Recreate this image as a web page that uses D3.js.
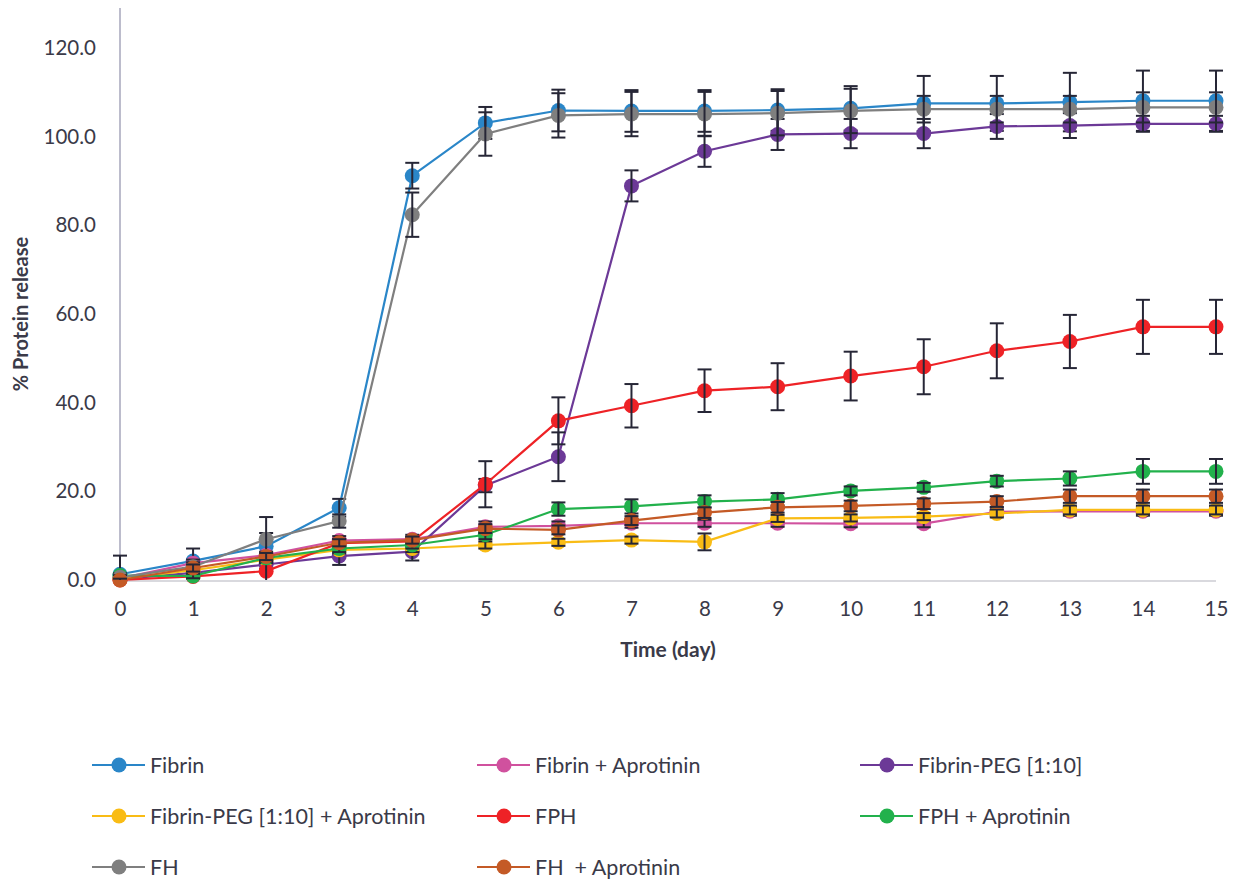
<!DOCTYPE html>
<html>
<head>
<meta charset="utf-8">
<script src="https://cdn.jsdelivr.net/npm/d3@7"></script>
<style>
  html, body { margin: 0; padding: 0; background: #ffffff; }
  svg { display: block; }
  text { font-family: Lato, "Open Sans", sans-serif; fill: #3a3a48; }
</style>
</head>
<body>
<svg id="chart" width="1238" height="881"></svg>
<script>
// Release time points (days)
const days = [0, 1, 2, 3, 4, 5, 6, 7, 8, 9, 10, 11, 12, 13, 14, 15];
const yTicks = [0, 20, 40, 60, 80, 100, 120];

// Series names
const seriesNames = [
  "Fibrin", "Fibrin + Aprotinin", "Fibrin-PEG [1:10]",
  "Fibrin-PEG [1:10] + Aprotinin", "FPH", "FPH + Aprotinin",
  "FH", "FH  + Aprotinin"
];
const seriesColors = ["#2a86c8", "#d0519e", "#6c3997", "#f9bc15", "#ee2226", "#22b14c", "#7f7f7f", "#c45a26"];

// Cumulative % protein release (mean)
const fibrin       = [1.3, 4.3, 7.6, 16.3, 91.2, 103.1, 105.9, 105.8, 105.8, 106.0, 106.4, 107.5, 107.5, 107.8, 108.1, 108.1];
const fibrinApro   = [0.4, 3.8, 5.6, 8.9, 9.2, 12.0, 12.2, 12.8, 12.8, 12.8, 12.7, 12.7, 15.4, 15.5, 15.5, 15.5];
const fibrinPeg    = [0.2, 1.6, 3.5, 5.4, 6.4, 21.3, 27.8, 88.9, 96.7, 100.5, 100.7, 100.7, 102.3, 102.5, 102.9, 102.9];
const fibrinPegApro= [0.3, 2.2, 4.6, 6.8, 7.1, 7.9, 8.5, 9.0, 8.6, 13.9, 14.0, 14.3, 15.0, 15.8, 15.8, 15.8];
const fph          = [0.0, 0.8, 2.0, 8.3, 8.7, 21.6, 35.9, 39.3, 42.7, 43.6, 46.0, 48.1, 51.7, 53.8, 57.1, 57.1];
const fphApro      = [1.0, 0.9, 5.0, 7.1, 7.9, 10.2, 16.0, 16.6, 17.7, 18.2, 20.1, 20.9, 22.3, 22.9, 24.5, 24.5];
const fh           = [0.6, 3.0, 9.2, 13.3, 82.4, 100.6, 104.8, 105.1, 105.1, 105.3, 105.8, 106.2, 106.2, 106.2, 106.6, 106.6];
const fhApro       = [0.0, 2.7, 5.3, 8.4, 9.0, 11.6, 11.3, 13.4, 15.2, 16.4, 16.7, 17.2, 17.7, 18.9, 18.9, 18.9];

// Standard deviations (error bars)
const fibrinSd       = [4.2, 2.8, 3.0, 2.0, 2.9, 3.6, 4.7, 4.7, 4.7, 4.7, 5.0, 6.2, 6.2, 6.6, 6.8, 6.8];
const fibrinAproSd   = [0.5, 0.8, 0.8, 1.0, 1.0, 1.2, 1.0, 1.0, 0.8, 0.8, 0.8, 0.8, 1.0, 1.0, 1.0, 1.0];
const fibrinPegSd    = [0.3, 0.8, 1.0, 2.0, 2.0, 1.5, 5.5, 3.5, 3.5, 3.5, 3.3, 3.3, 2.8, 2.8, 1.8, 1.8];
const fibrinPegAproSd= [0.3, 0.8, 0.8, 0.8, 0.8, 0.8, 0.8, 0.8, 1.9, 0.8, 0.8, 0.8, 0.9, 1.0, 1.0, 1.0];
const fphSd          = [0.2, 0.5, 2.0, 1.0, 1.0, 5.2, 5.3, 4.9, 4.8, 5.3, 5.5, 6.2, 6.2, 6.0, 6.1, 6.1];
const fphAproSd      = [0.5, 0.5, 0.8, 0.8, 0.8, 1.0, 1.5, 1.6, 1.4, 1.4, 1.0, 1.0, 1.2, 1.6, 2.8, 2.8];
const fhSd           = [0.5, 1.0, 5.0, 1.5, 5.0, 4.9, 5.0, 5.0, 5.0, 5.0, 5.0, 3.0, 3.0, 3.0, 3.4, 3.4];
const fhAproSd       = [0.3, 0.8, 0.8, 0.8, 0.8, 1.0, 1.0, 1.0, 1.2, 1.2, 1.2, 1.2, 1.2, 1.5, 1.5, 1.5];

const seriesValues = [fibrin, fibrinApro, fibrinPeg, fibrinPegApro, fph, fphApro, fh, fhApro];
const seriesErrors = [fibrinSd, fibrinAproSd, fibrinPegSd, fibrinPegAproSd, fphSd, fphAproSd, fhSd, fhAproSd];

const series = seriesNames.map((name, i) => ({
  name, color: seriesColors[i],
  points: days.map((d, j) => ({ day: d, value: seriesValues[i][j], sd: seriesErrors[i][j] }))
}));

const svg = d3.select("#chart");
const x = d3.scaleLinear().domain([0, 15]).range([120, 1216]);
const y = d3.scaleLinear().domain([0, 120]).range([580, 48]);

// Axis lines
svg.append("line")
  .attr("x1", x(0)).attr("x2", x(0))
  .attr("y1", y(129)).attr("y2", y(0) + 1)
  .attr("stroke", "#bcbccc").attr("stroke-width", 2);
svg.append("line")
  .attr("x1", x(0)).attr("x2", x(15))
  .attr("y1", y(0) + 1).attr("y2", y(0) + 1)
  .attr("stroke", "#d9d9de").attr("stroke-width", 2);

// Y tick labels
const yAxis = d3.axisLeft(y).tickValues(yTicks).tickFormat(d3.format(".1f")).tickSize(0).tickPadding(24);
const gy = svg.append("g").attr("transform", `translate(${x(0)},0)`).call(yAxis);
gy.select(".domain").remove();
gy.selectAll("text").style("font-size", "20.5px").attr("fill", "#3a3a48").style("font-family", "Lato, 'Open Sans', sans-serif");

// X tick labels
const xAxis = d3.axisBottom(x).tickValues(days).tickFormat(d3.format("d")).tickSize(0).tickPadding(21);
const gx = svg.append("g").attr("transform", `translate(0,${y(0)})`).call(xAxis);
gx.select(".domain").remove();
gx.selectAll("text").style("font-size", "20.5px").attr("fill", "#3a3a48").style("font-family", "Lato, 'Open Sans', sans-serif");

// Axis titles
svg.append("text")
  .attr("transform", `translate(28,${y(60)}) rotate(-90)`)
  .attr("text-anchor", "middle")
  .style("font-size", "20px").style("font-weight", "bold")
  .text("% Protein release");
svg.append("text")
  .attr("x", (x(0) + x(15)) / 2).attr("y", 657)
  .attr("text-anchor", "middle")
  .style("font-size", "21px").style("font-weight", "bold")
  .text("Time (day)");

// Series: line, markers, error bars (drawn in series order)
const line = d3.line().x(d => x(d.day)).y(d => y(d.value));
const capHalf = 7;
series.forEach(s => {
  const g = svg.append("g");
  g.append("path").datum(s.points)
    .attr("d", line).attr("fill", "none")
    .attr("stroke", s.color).attr("stroke-width", 2.2);
  g.selectAll("circle").data(s.points).join("circle")
    .attr("cx", d => x(d.day)).attr("cy", d => y(d.value))
    .attr("r", 7.5).attr("fill", s.color);
  const eb = g.selectAll("g.err").data(s.points).join("g").attr("class", "err")
    .attr("stroke", "#262636").attr("stroke-width", 2);
  eb.append("line")
    .attr("x1", d => x(d.day)).attr("x2", d => x(d.day))
    .attr("y1", d => y(d.value + d.sd)).attr("y2", d => y(Math.max(0, d.value - d.sd)));
  eb.append("line")
    .attr("x1", d => x(d.day) - capHalf).attr("x2", d => x(d.day) + capHalf)
    .attr("y1", d => y(d.value + d.sd)).attr("y2", d => y(d.value + d.sd));
  eb.filter(d => d.value - d.sd > 0).append("line")
    .attr("x1", d => x(d.day) - capHalf).attr("x2", d => x(d.day) + capHalf)
    .attr("y1", d => y(d.value - d.sd)).attr("y2", d => y(d.value - d.sd));
});

// Legend: 3 columns x 3 rows
const legendCols = [92, 477, 860];
const legendRows = [765, 816, 867];
const legend = svg.append("g");
series.forEach((s, i) => {
  const lx = legendCols[i % 3], ly = legendRows[Math.floor(i / 3)];
  const item = legend.append("g");
  item.append("line").attr("x1", lx).attr("x2", lx + 53).attr("y1", ly).attr("y2", ly)
    .attr("stroke", s.color).attr("stroke-width", 2.2);
  item.append("circle").attr("cx", lx + 27).attr("cy", ly).attr("r", 7.5).attr("fill", s.color);
  item.append("text").attr("x", lx + 58).attr("y", ly).attr("dy", "0.35em")
    .style("font-size", "21.5px").style("white-space", "pre").text(s.name);
});
</script>
</body>
</html>
